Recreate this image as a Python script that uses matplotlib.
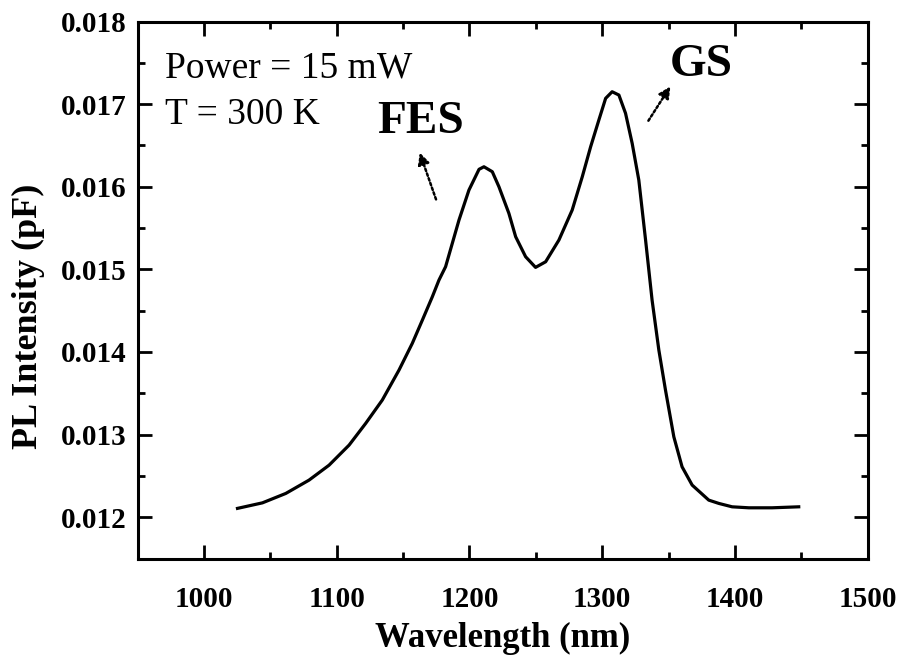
import matplotlib
matplotlib.use("Agg")
import matplotlib.pyplot as plt
from matplotlib.ticker import MultipleLocator

# Data
wavelength = [1025.2, 1044.0, 1061.6, 1079.1, 1094.2, 1109.3, 1121.8, 1134.3, 1146.9,
              1156.9, 1164.5, 1172.0, 1177.0, 1182.0, 1192.1, 1199.6, 1207.2, 1210.9,
              1217.2, 1222.2, 1229.7, 1234.8, 1242.3, 1249.8, 1257.4, 1267.4, 1277.4,
              1285.0, 1291.3, 1297.5, 1302.6, 1307.5, 1312.6, 1317.6, 1322.6, 1327.6,
              1332.7, 1337.6, 1342.7, 1347.7, 1354.0, 1360.2, 1367.8, 1380.3, 1387.9,
              1397.9, 1410.5, 1428.0, 1448.1]
intensity = [0.012107, 0.012174, 0.012288, 0.012449, 0.012630, 0.012873, 0.013136,
             0.013418, 0.013781, 0.014104, 0.014386, 0.014668, 0.014870, 0.015032,
             0.015597, 0.015960, 0.016211, 0.016242, 0.016182, 0.016000, 0.015678,
             0.015395, 0.015153, 0.015024, 0.015092, 0.015355, 0.015718, 0.016121,
             0.016484, 0.016808, 0.017070, 0.017150, 0.017110, 0.016889, 0.016525,
             0.016081, 0.015355, 0.014628, 0.014023, 0.013539, 0.012973, 0.012610,
             0.012389, 0.012207, 0.012167, 0.012126, 0.012114, 0.012114, 0.012126]

x_ticks = [1000, 1100, 1200, 1300, 1400, 1500]
y_ticks = [0.012, 0.013, 0.014, 0.015, 0.016, 0.017, 0.018]

serif = ['Liberation Serif', 'DejaVu Serif']
plt.rcParams['font.family'] = serif

fig = plt.figure(figsize=(9, 6.62), dpi=100)
ax = fig.add_axes([0.153, 0.1563, 0.811, 0.8112])

ax.plot(wavelength, intensity, color='black', lw=2.3, solid_joinstyle='round')

ax.set_xlim(950, 1500)
ax.set_ylim(0.0115, 0.018)
ax.set_xticks(x_ticks)
ax.set_yticks(y_ticks)
ax.set_yticklabels([f"{v:.3f}" for v in y_ticks])
ax.xaxis.set_minor_locator(MultipleLocator(50))
ax.yaxis.set_minor_locator(MultipleLocator(0.0005))

for s in ax.spines.values():
    s.set_linewidth(2.2)
ax.tick_params(which='both', direction='in', top=True, right=True, width=2)
ax.tick_params(which='major', length=10, labelsize=21)
ax.tick_params(axis='x', which='major', pad=20)
ax.tick_params(axis='y', which='major', pad=8)
ax.tick_params(which='minor', length=5)
for lab in ax.get_xticklabels() + ax.get_yticklabels():
    lab.set_fontweight('bold')

ax.set_xlabel('Wavelength (nm)', fontsize=25, fontweight='bold', labelpad=6)
ax.set_ylabel('PL Intensity (pF)', fontsize=26, fontweight='bold')
ax.yaxis.set_label_coords(-0.127, 0.4516)

ax.text(0.038, 0.895, 'Power = 15 mW', transform=ax.transAxes,
        fontsize=27, va='baseline', ha='left')
ax.text(0.038, 0.809, 'T = 300 K', transform=ax.transAxes,
        fontsize=27, va='baseline', ha='left')

ax.text(1163, 0.01678, 'FES', fontsize=34, fontweight='bold', ha='center', va='center')
ax.text(1374.4, 0.01747, 'GS', fontsize=34, fontweight='bold', ha='center', va='center')

ax.annotate('', xy=(1161.8, 0.016444), xytext=(1175.5, 0.015815),
            arrowprops=dict(arrowstyle='-|>', linestyle=(0, (1, 1)), lw=1.8,
                            color='black', mutation_scale=17))
ax.annotate('', xy=(1352.5, 0.017243), xytext=(1333.7, 0.016771),
            arrowprops=dict(arrowstyle='-|>', linestyle=(0, (1, 1)), lw=1.8,
                            color='black', mutation_scale=17))

fig.savefig('out.png', dpi=100)
